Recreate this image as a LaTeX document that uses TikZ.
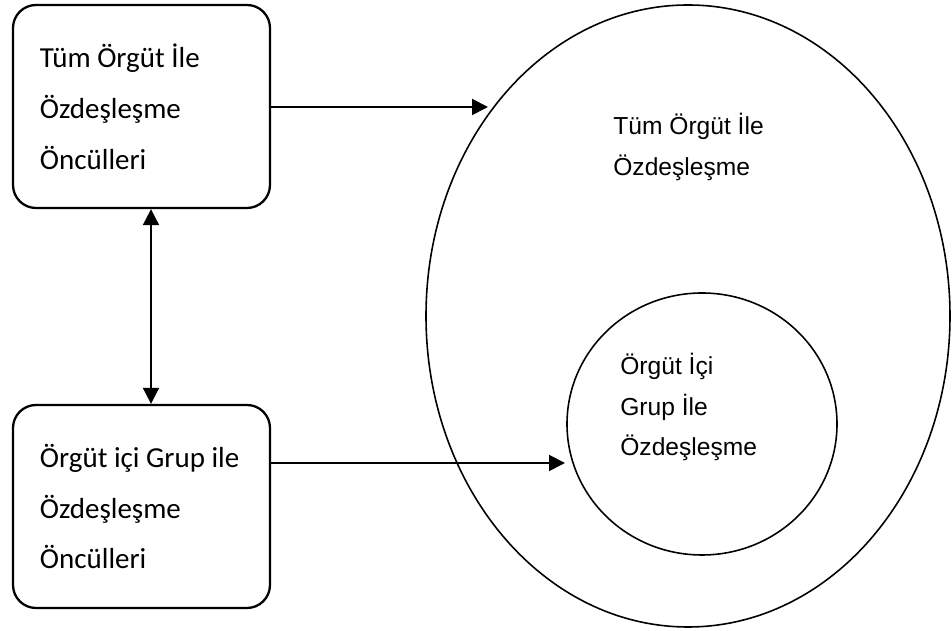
\documentclass[tikz,border=0pt]{standalone}
\usepackage{fontspec}
\setmainfont{Carlito}
\newfontfamily\arialfont{Liberation Sans}
\usetikzlibrary{
		arrows.meta,
		positioning,
		shapes.geometric
	}
\tikzset{%
		>={Triangle[length=0.32cm, width=0.32cm]},
		premise/.style = {
			draw,
			rectangle,
			rounded corners = 0.46cm,
			line width = 1.3pt,
			minimum width = 5.14cm,
			minimum height = 4.06cm,
			text width = 4.06cm,
			inner xsep = 0.54cm,
			align = flush left,
			font = \fontsize{16.5}{29}\selectfont
		},
		scopering/.style = {
			draw,
			ellipse,
			line width = 0.9pt,
			inner sep = 0pt
		},
		ringlabel/.style = {
			anchor = north west,
			inner sep = 0pt,
			align = left,
			font = \arialfont\fontsize{14}{23}\selectfont
		},
		link/.style = {
			line width = 1.1pt,
			->
		}
	}

\begin{document}
\begin{tikzpicture}
		\useasboundingbox (0, 0) rectangle (19.04, 12.62);
		\node [premise] (wholeorg) at (2.83, 10.49) {Tüm Örgüt İle\\Özdeşleşme\\Öncülleri};
		\node [premise] (grouporg) at (2.83, 2.49) {Örgüt içi Grup ile\\Özdeşleşme\\Öncülleri};
		\node [scopering, minimum width = 10.48cm, minimum height = 12.44cm] (outer) at (13.76, 6.30) {};
		\node [scopering, minimum width = 5.40cm, minimum height = 5.24cm] (inner) at (14.04, 4.14) {};
		\node [ringlabel] (outertext) at (12.26, 10.36) {Tüm Örgüt İle\\Özdeşleşme};
		\node [ringlabel] (innertext) at (12.40, 5.56) {Örgüt İçi\\Grup İle\\Özdeşleşme};
		\coordinate (outerhit) at (9.76, 10.48);
		\coordinate (innerhit) at (11.30, 3.36);
		\draw [link] (wholeorg.east |- outerhit) -- (outerhit);
		\draw [link] (grouporg.east |- innerhit) -- (innerhit);
		\draw [link, <->] ([xshift=0.19cm]wholeorg.south) -- ([xshift=0.19cm]grouporg.north);
\end{tikzpicture}
\end{document}
